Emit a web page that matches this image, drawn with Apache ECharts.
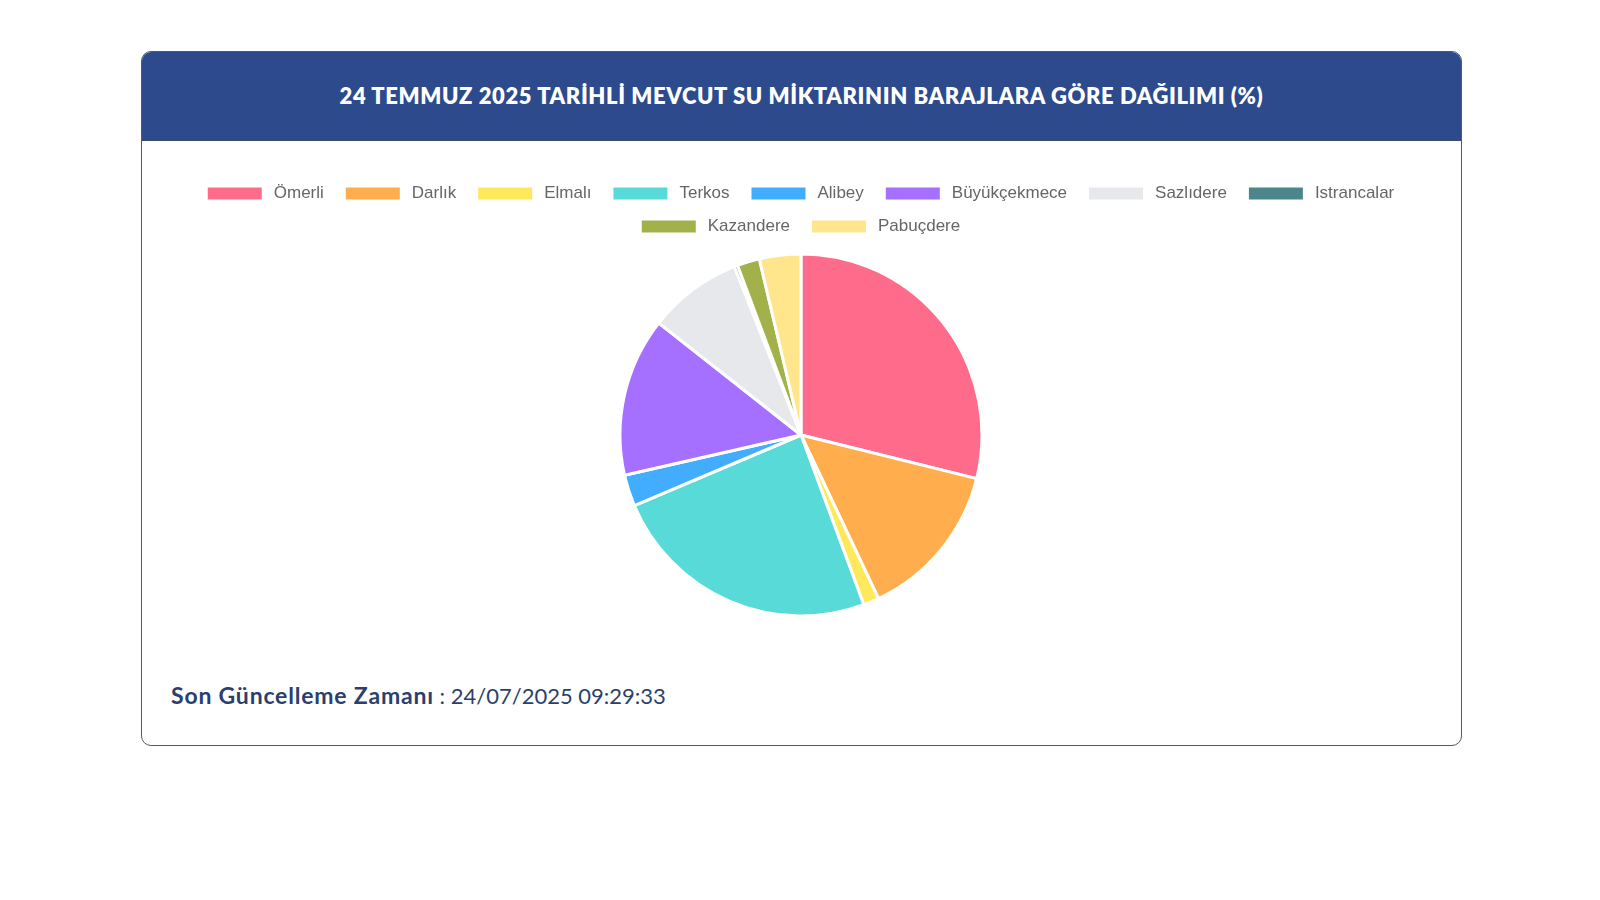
<!DOCTYPE html>
<html>
<head>
<meta charset="utf-8">
<script src="https://cdn.jsdelivr.net/npm/echarts@6/dist/echarts.min.js"></script>
<style>
    html, body { margin: 0; padding: 0; background: #fff; width: 1600px; height: 900px; overflow: hidden; }
    .card {
        position: absolute; left: 141px; top: 51px; width: 1321px; height: 695px;
        box-sizing: border-box; border: 1.5px solid #4d5b6b; border-radius: 10px; overflow: hidden;
    }
    .card-header {
        height: 88px; background: #2c4a8c; color: #fff; text-align: center;
        font-family: Lato, "Open Sans", sans-serif; font-weight: 800; font-size: 22px; line-height: 88px;
        letter-spacing: 0.6px;
        border-bottom: 1px solid #3a4d70;
    }
    .footer {
        position: absolute; left: 171px; top: 681px; white-space: nowrap;
        font-family: Lato, "Open Sans", sans-serif; font-size: 22px; color: #2b3f6e;
    }
    .footer b { font-weight: 700; font-size: 23px; letter-spacing: 0.8px; }
    #chart { position: absolute; left: 0; top: 0; width: 1600px; height: 900px; }
</style>
</head>
<body>
<div class="card">
    <div class="card-header">24 TEMMUZ 2025 TARİHLİ MEVCUT SU MİKTARININ BARAJLARA GÖRE DAĞILIMI (%)</div>
</div>
<div class="footer"><b>Son Güncelleme Zamanı</b> : 24/07/2025 09:29:33</div>
<div id="chart"></div>
<script>
// baraj isimleri ve yuzde paylari
var dams = ["Ömerli", "Darlık", "Elmalı", "Terkos", "Alibey", "Büyükçekmece", "Sazlıdere", "Istrancalar", "Kazandere", "Pabuçdere"];
var shares = [28.9, 14.1, 1.4, 24.3, 2.8, 14.2, 8.4, 0.3, 2.0, 3.7];
var colors = ["#ff6b8b", "#ffad4d", "#ffe95a", "#58dbd8", "#42acff", "#a56fff", "#e6e8ec", "#4a868c", "#a3b14b", "#ffe58c"];

var pieData = dams.map(function (name, i) {
    return {name: name, value: shares[i]};
});

// iki satir, her biri ortalanmis
var legendBase = {
    left: 'center',
    itemWidth: 56,
    itemHeight: 14,
    itemGap: 20,
    icon: 'rect',
    textStyle: {
        color: '#666',
        fontSize: 17,
        lineHeight: 14,
        fontFamily: '"Liberation Sans", Arial, sans-serif',
        padding: [0, 0, 0, 6]
    }
};

var option = {
    animation: false,
    color: colors,
    legend: [
        Object.assign({}, legendBase, {top: 180, data: dams.slice(0, 8)}),
        Object.assign({}, legendBase, {top: 213, data: dams.slice(8)})
    ],
    series: [
        {
            type: 'pie',
            center: [801, 435],
            radius: 181,
            startAngle: 90,
            clockwise: true,
            label: {show: false},
            labelLine: {show: false},
            itemStyle: {
                borderColor: '#fff',
                borderWidth: 3
            },
            emphasis: {disabled: true},
            data: pieData
        }
    ]
};

var chart = echarts.init(document.getElementById('chart'));
chart.setOption(option);
window.onresize = chart.resize;
</script>
</body>
</html>
